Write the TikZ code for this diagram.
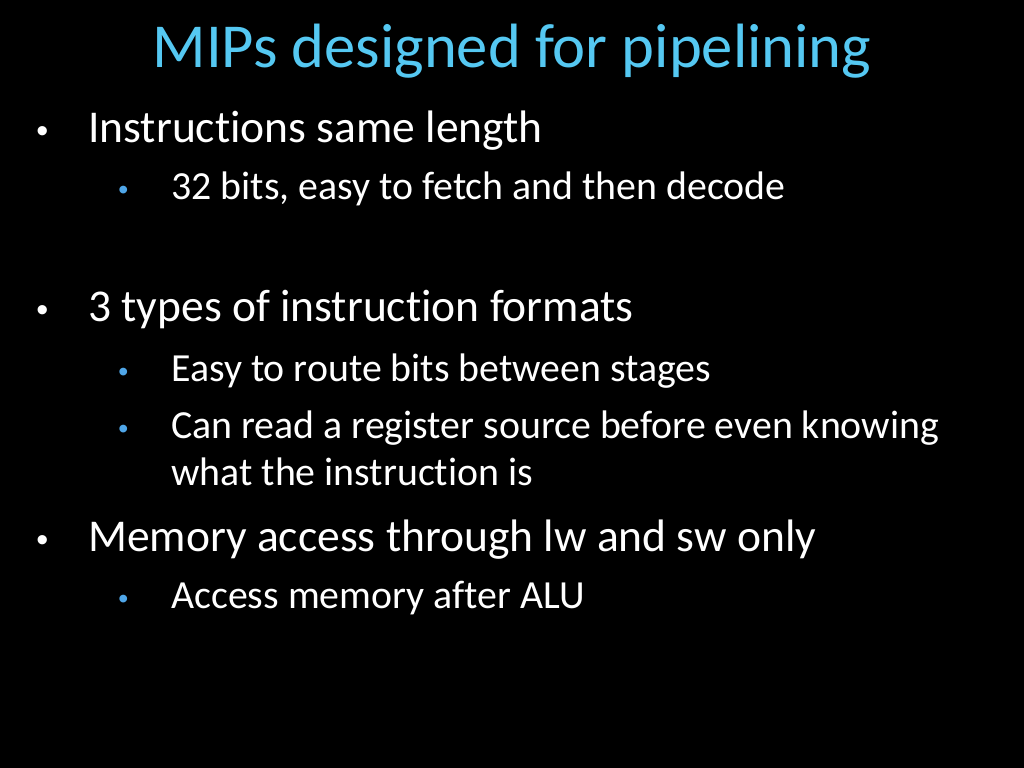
\documentclass[tikz,border=0pt]{standalone}
\usepackage{fontspec}
\setmainfont{Carlito}[Ligatures=NoCommon]
\newfontfamily\bulfont{Liberation Sans}
\definecolor{ttl}{HTML}{55C8F2}
\definecolor{sb}{HTML}{4FA6E8}
\begin{document}
\begin{tikzpicture}[x=0.703125pt,y=-0.703125pt,
 t/.style={anchor=base west,inner sep=0pt,text=white},
 l1/.style={t,font=\fontsize{32}{38}\selectfont},
 l2/.style={t,font=\fontsize{28}{34}\selectfont},
 b1/.style={t,font=\bulfont\fontsize{24}{28}\selectfont},
 b2/.style={anchor=base west,inner sep=0pt,text=sb,font=\bulfont\fontsize{20}{24}\selectfont}]
\fill[black] (0,0) rectangle (1024,768);
\node[anchor=base,inner sep=0pt,text=ttl,font=\fontsize{44}{52}\selectfont] (title) at (512,68) {MIPs designed for pipelining};
\node[b1] (d1) at (36,143) {•}; \node[l1] (a1) at (88,143) {Instructions same length};
\node[b2] (d2) at (118,200) {•}; \node[l2] (a2) at (171,200) {32 bits, easy to fetch and then decode};
\node[b1] (d3) at (36,322) {•}; \node[l1] (a3) at (88,322) {3 types of instruction formats};
\node[b2] (d4) at (118,381) {•}; \node[l2] (a4) at (171,381) {Easy to route bits between stages};
\node[b2] (d5) at (118,438) {•}; \node[l2] (a5) at (171,438) {Can read a register source before even knowing};
\node[l2] (a6) at (171,485) {what the instruction is};
\node[b1] (d7) at (36,551) {•}; \node[l1] (a7) at (88,551) {Memory access through lw and sw only};
\node[b2] (d8) at (118,608) {•}; \node[l2] (a8) at (171,608) {Access memory after ALU};
\end{tikzpicture}
\end{document}
